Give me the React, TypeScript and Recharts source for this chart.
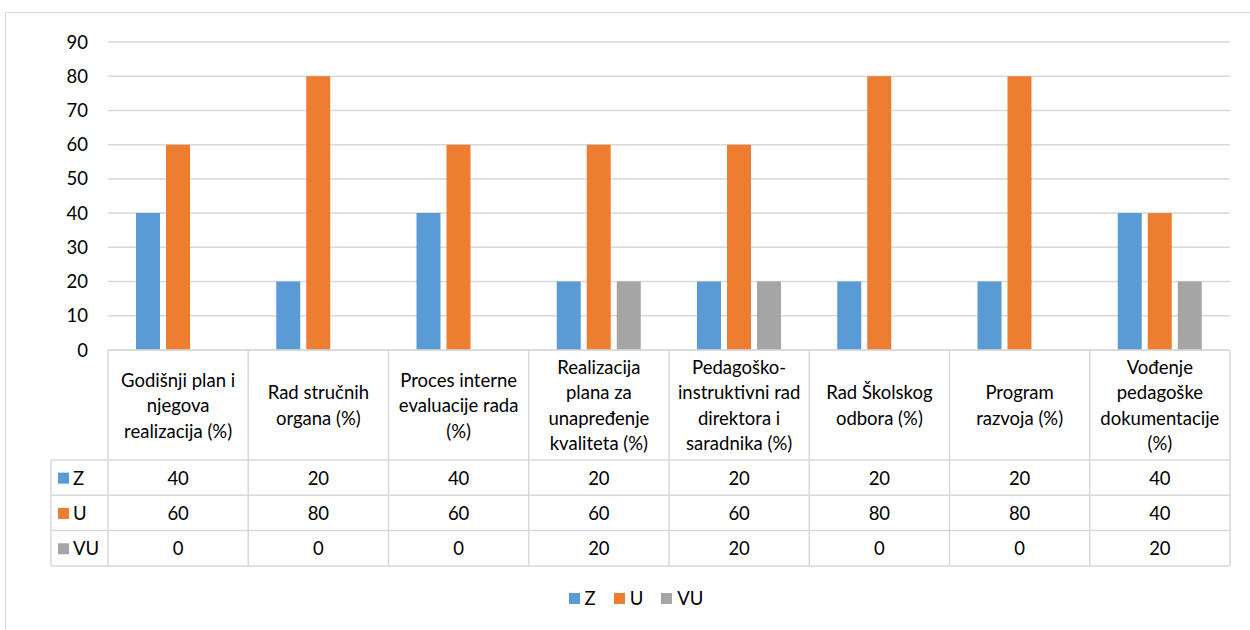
import { BarChart, Bar, XAxis, YAxis, CartesianGrid, Legend } from 'recharts';

const categories = [
  'Godišnji plan i\nnjegova\nrealizacija (%)',
  'Rad stručnih\norgana (%)',
  'Proces interne\nevaluacije rada\n(%)',
  'Realizacija\nplana za\nunapređenje\nkvaliteta (%)',
  'Pedagoško-\ninstruktivni rad\ndirektora i\nsaradnika (%)',
  'Rad Školskog\nodbora (%)',
  'Program\nrazvoja (%)',
  'Vođenje\npedagoške\ndokumentacije\n(%)',
];

const zValues = [40, 20, 40, 20, 20, 20, 20, 40];
const uValues = [60, 80, 60, 60, 60, 80, 80, 40];
const vuValues = [0, 0, 0, 20, 20, 0, 0, 20];

const yTicks = [0, 10, 20, 30, 40, 50, 60, 70, 80, 90];

const SERIES = [
  { key: 'Z', color: '#5b9bd5', values: zValues },
  { key: 'U', color: '#ed7d31', values: uValues },
  { key: 'VU', color: '#a5a5a5', values: vuValues },
];

const data = categories.map((name, i) => ({
  name,
  Z: zValues[i],
  U: uValues[i],
  VU: vuValues[i],
}));

const PLOT_LEFT = 108;
const PLOT_RIGHT = 1230;
const PLOT_BOTTOM = 350;
const CELL_W = (PLOT_RIGHT - PLOT_LEFT) / categories.length;
const HEADER_BOTTOM = 460;
const ROW_H = 35.3;
const KEY_LEFT = 51;
const LINE = '#d9d9d9';
const FONT = 18.5;

function TableTick(props: any) {
  const { x, index, payload } = props;
  const left = x - CELL_W / 2;
  const right = x + CELL_W / 2;
  const bottom = HEADER_BOTTOM + ROW_H * SERIES.length;
  const lines: string[] = String(payload.value).split('\n');
  const lh = 25.5;
  const mid = (PLOT_BOTTOM + HEADER_BOTTOM) / 2;
  const firstY = mid - ((lines.length - 1) * lh) / 2;

  return (
    <g>
      {index === 0 && (
        <g>
          <line x1={left} y1={PLOT_BOTTOM} x2={left} y2={bottom} stroke={LINE} strokeWidth={1.5} />
          <line x1={KEY_LEFT} y1={HEADER_BOTTOM} x2={KEY_LEFT} y2={bottom} stroke={LINE} strokeWidth={1.5} />
          {SERIES.map((s, r) => {
            const cy = HEADER_BOTTOM + ROW_H * r + ROW_H / 2;
            return (
              <g key={s.key}>
                <line x1={KEY_LEFT} y1={HEADER_BOTTOM + ROW_H * r} x2={left} y2={HEADER_BOTTOM + ROW_H * r} stroke={LINE} strokeWidth={1.5} />
                <rect x={KEY_LEFT + 7} y={cy - 5} width={11} height={11} fill={s.color} />
                <text x={KEY_LEFT + 22} y={cy} fontSize={FONT} fill="#000" dominantBaseline="central">
                  {s.key}
                </text>
              </g>
            );
          })}
          <line x1={KEY_LEFT} y1={bottom} x2={left} y2={bottom} stroke={LINE} strokeWidth={1.5} />
        </g>
      )}
      <line x1={right} y1={PLOT_BOTTOM} x2={right} y2={bottom} stroke={LINE} strokeWidth={1.5} />
      {lines.map((ln, k) => (
        <text key={k} x={x} y={firstY + k * lh} fontSize={FONT} fill="#000" textAnchor="middle" dominantBaseline="central">
          {ln}
        </text>
      ))}
      {SERIES.map((s, r) => (
        <g key={s.key}>
          <line x1={left} y1={HEADER_BOTTOM + ROW_H * r} x2={right} y2={HEADER_BOTTOM + ROW_H * r} stroke={LINE} strokeWidth={1.5} />
          <text x={x} y={HEADER_BOTTOM + ROW_H * r + ROW_H / 2} fontSize={FONT} fill="#000" textAnchor="middle" dominantBaseline="central">
            {s.values[index]}
          </text>
        </g>
      ))}
      <line x1={left} y1={bottom} x2={right} y2={bottom} stroke={LINE} strokeWidth={1.5} />
    </g>
  );
}

function LegendContent() {
  return (
    <div style={{ display: 'flex', justifyContent: 'center', alignItems: 'center', fontSize: FONT, color: '#000', paddingLeft: 22 }}>
      {SERIES.map((s) => (
        <div key={s.key} style={{ display: 'flex', alignItems: 'center', margin: '0 9px' }}>
          <span style={{ width: 11, height: 11, background: s.color, display: 'inline-block', marginRight: 5 }} />
          <span>{s.key}</span>
        </div>
      ))}
    </div>
  );
}

export default function App() {
  return (
    <div style={{ position: 'absolute', left: 0, top: 0, width: 1250, height: 630, overflow: 'hidden', background: '#fff', fontFamily: 'Lato, sans-serif' }}>
      <div style={{ position: 'absolute', left: 5, top: 12, width: 1300, height: 700, border: `1.5px solid ${LINE}` }} />
      <BarChart
        width={1250}
        height={630}
        data={data}
        margin={{ top: 42, right: 1250 - PLOT_RIGHT, left: 48, bottom: 10 }}
        barSize={24}
        barGap={6}
      >
        <CartesianGrid vertical={false} stroke={LINE} strokeWidth={1.5} />
        <XAxis
          dataKey="name"
          interval={0}
          height={270}
          axisLine={{ stroke: LINE, strokeWidth: 1.5 }}
          tickLine={false}
          tick={<TableTick />}
        />
        <YAxis
          width={60}
          domain={[0, 90]}
          ticks={yTicks}
          axisLine={false}
          tickLine={false}
          tickSize={0}
          tickMargin={20}
          tick={{ fontSize: FONT, fill: '#000' }}
        />
        <Legend
          verticalAlign="middle"
          layout="horizontal"
          wrapperStyle={{ top: 587, left: 0, width: 1250 }}
          content={<LegendContent />}
        />
        {SERIES.map((s) => (
          <Bar key={s.key} dataKey={s.key} fill={s.color} isAnimationActive={false} />
        ))}
      </BarChart>
    </div>
  );
}
